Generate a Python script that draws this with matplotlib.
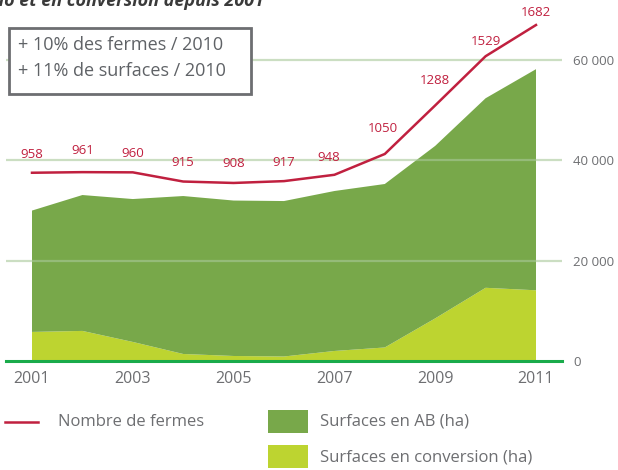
import matplotlib
matplotlib.use("Agg")
import matplotlib.pyplot as plt
from matplotlib.patches import Rectangle
from matplotlib.lines import Line2D

years = [2001, 2002, 2003, 2004, 2005, 2006, 2007, 2008, 2009, 2010, 2011]
fermes = [958, 961, 960, 915, 908, 917, 948, 1050, 1288, 1529, 1682]
surf_conversion = [5800, 6000, 3800, 1400, 1000, 900, 2000, 2700, 8500, 14600, 14100]
surf_ab = [24200, 27100, 28500, 31500, 31000, 31000, 31900, 32600, 34400, 37800, 44100]
year_ticks = [2001, 2003, 2005, 2007, 2009, 2011]
y_ticks = [0, 20000, 40000, 60000]
y_ticklabels = ["0", "20 000", "40 000", "60 000"]

# label offsets (pixels) for the farm counts
label_dx = [0, 0, 0, 0, 0, 0, -6, -2, 0, 0, 0]
label_dy = [18, 22, 19, 19, 19, 19, 17, 25, 25, 15, 13]

red = "#c0203f"
green_ab = "#78a84a"
green_conv = "#bdd430"
grey = "#6d6e71"
plt.rcParams["font.family"] = ["Open Sans", "DejaVu Sans"]

W, H = 618, 470
fig = plt.figure(figsize=(W / 100, H / 100), dpi=100)
ax = fig.add_axes([6 / W, 1 - 361 / H, 556 / W, 351 / H])

ax.stackplot(years, surf_conversion, surf_ab, colors=[green_conv, green_ab], lw=0, zorder=1)
ax.set_xlim(2001 - 26 / 50.4, 2011 + 26 / 50.4)
ax.set_ylim(0, 70000)

for v in y_ticks[1:]:
    ax.axhline(v, color="#a9c99a", lw=1.6, alpha=0.6, zorder=2)
ax.axhline(0, color="#1aab4b", lw=2.2, zorder=3, clip_on=False)

ax2 = ax.twinx()
ax2.set_ylim(35.6, 1755.5)
ax2.plot(years, fermes, color=red, lw=1.8, zorder=4, clip_on=False)
for s in ax2.spines.values():
    s.set_visible(False)
ax2.set_yticks([])
for i, (x, f) in enumerate(zip(years, fermes)):
    ax2.annotate(str(f), (x, f), xytext=(label_dx[i], label_dy[i]),
                 textcoords="offset pixels", ha="center", va="center",
                 color=red, fontsize=9.5, annotation_clip=False)

for s in ax.spines.values():
    s.set_visible(False)
ax.set_xticks(year_ticks)
ax.set_xticklabels([str(y) for y in year_ticks])
ax.tick_params(axis="x", length=0, pad=7, labelsize=11.5, labelcolor=grey)
ax.set_yticks(y_ticks)
ax.set_yticklabels(y_ticklabels)
ax.yaxis.tick_right()
ax.tick_params(axis="y", length=0, pad=8, labelsize=9.5, labelcolor=grey)

# titre coupé en haut
fig.text(-12 / W, 1 - 10 / H, "bio et en conversion depuis 2001", fontsize=13,
         fontweight="bold", style="italic", color="#3a3a3a", ha="left", va="bottom")

# encadré
fig.add_artist(Rectangle((9 / W, 1 - 94 / H), 242 / W, 66 / H, transform=fig.transFigure,
                         facecolor="white", edgecolor=grey, lw=2, zorder=5))
fig.text(18 / W, 1 - 45 / H, "+ 10% des fermes / 2010", fontsize=13, color="#5f6266",
         va="center", ha="left", zorder=6)
fig.text(18 / W, 1 - 71 / H, "+ 11% de surfaces / 2010", fontsize=13, color="#5f6266",
         va="center", ha="left", zorder=6)

# légende
fig.add_artist(Line2D([5 / W, 38 / W], [1 - 422 / H, 1 - 422 / H], transform=fig.transFigure,
                      color=red, lw=1.8))
fig.text(58 / W, 1 - 422 / H, "Nombre de fermes", fontsize=12, color=grey, va="center")
fig.add_artist(Rectangle((268 / W, 1 - 433 / H), 40 / W, 23 / H, transform=fig.transFigure,
                         facecolor=green_ab, lw=0))
fig.text(320 / W, 1 - 422 / H, "Surfaces en AB (ha)", fontsize=12, color=grey, va="center")
fig.add_artist(Rectangle((268 / W, 1 - 468 / H), 40 / W, 23 / H, transform=fig.transFigure,
                         facecolor=green_conv, lw=0))
fig.text(320 / W, 1 - 457 / H, "Surfaces en conversion (ha)", fontsize=12, color=grey, va="center")

fig.savefig("out.png", dpi=100)
